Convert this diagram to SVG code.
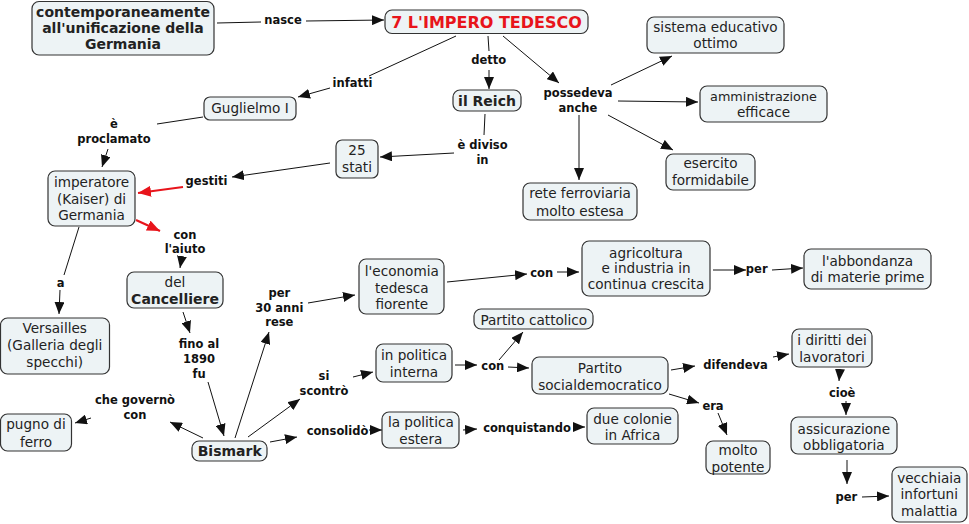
<svg xmlns="http://www.w3.org/2000/svg" width="969" height="524" viewBox="0 0 969 524">
<style>
.n rect{fill:#edf3f5;stroke:#333;stroke-width:1.2}
.n text{font-family:"DejaVu Sans",Verdana,sans-serif;font-size:13.6px;fill:#222;text-anchor:middle}
.n text.b{font-weight:bold;font-size:14px}
.t text{font-family:"DejaVu Sans",Verdana,sans-serif;font-weight:bold;font-size:16px;fill:#e8141b;text-anchor:middle}
.l{font-family:"DejaVu Sans",Verdana,sans-serif;font-weight:bold;font-size:11.5px;fill:#111;text-anchor:middle}
#connectors path{fill:none;stroke:#111;stroke-width:1}
#connectors path.a{marker-end:url(#ar)}
#connectors path.r{stroke:#e8141b;stroke-width:2.2;marker-end:url(#arr)}
</style>
<defs>
<marker id="ar" markerUnits="userSpaceOnUse" markerWidth="12" markerHeight="10" refX="12" refY="5" orient="auto"><path d="M0,0 L12,5 L0,10 z" fill="#111"/></marker>
<marker id="arr" markerUnits="userSpaceOnUse" markerWidth="13" markerHeight="11" refX="13" refY="5.5" orient="auto"><path d="M0,0 L13,5.5 L0,11 z" fill="#e8141b"/></marker>
</defs>
<rect width="969" height="524" fill="#fff"/>
<g id="connectors">
<path d="M217,23 L261,22"/><path class="a" d="M306,21 L384,20"/>
<path d="M456,36 L369,76"/><path class="a" d="M330,88 L298,97"/>
<path d="M488,36 L489,51"/><path class="a" d="M489,70 L489,89"/>
<path class="a" d="M503,36 L559,83"/>
<path class="a" d="M611,85 L672,56"/><path class="a" d="M618,101 L698,102"/><path class="a" d="M608,115 L673,150"/><path class="a" d="M579,115 L579,180"/>
<path d="M485,114 L484,135"/><path class="a" d="M454,153 L380,157"/>
<path class="a" d="M330,163 L232,177"/>
<path class="r" d="M183,187 L138,193"/>
<path d="M203,117 L157,124"/><path class="a" d="M108,149 L102,167"/>
<path class="r" d="M136,220 L160,231"/>
<path class="a" d="M182,256 L180,268"/>
<path d="M79,227 L64,275"/><path class="a" d="M60,290 L59,314"/>
<path class="a" d="M183,312 L190,333"/><path class="a" d="M208,382 L224,436"/>
<path class="a" d="M203,438 L170,422"/><path class="a" d="M91,418 L75,423"/>
<path class="a" d="M235,438 L269,332"/><path class="a" d="M308,303 L355,295"/>
<path class="a" d="M248,437 L300,399"/><path class="a" d="M353,377 L373,372"/>
<path class="a" d="M270,442 L297,437"/><path class="a" d="M369,430 L382,430"/>
<path class="a" d="M463,430 L477,429"/><path class="a" d="M573,427 L585,427"/>
<path class="a" d="M447,282 L527,274"/><path class="a" d="M557,272 L579,272"/>
<path class="a" d="M713,270 L746,270"/><path class="a" d="M772,270 L803,268"/>
<path class="a" d="M455,365 L477,365"/><path class="a" d="M499,360 L523,332"/><path class="a" d="M508,367 L529,368"/>
<path class="a" d="M671,370 L695,366"/><path class="a" d="M773,357 L789,354"/>
<path class="a" d="M669,394 L699,403"/><path class="a" d="M718,413 L727,435"/>
<path class="a" d="M840,369 L839,381"/><path class="a" d="M846,401 L846,415"/>
<path class="a" d="M847,460 L847,484"/><path class="a" d="M862,497 L889,496"/>
</g>
<g id="labels">
<text class="l" x="283" y="24.2">nasce</text>
<text class="l" x="352.5" y="86.9">infatti</text>
<text class="l" x="488.7" y="64.2">detto</text>
<text class="l" x="578" y="96.9">possedeva</text><text class="l" x="578" y="111.5">anche</text>
<text class="l" x="482.5" y="149.2">è diviso</text><text class="l" x="482.5" y="163.5">in</text>
<text class="l" x="206.5" y="185.2">gestiti</text>
<text class="l" x="114" y="128.2">è</text><text class="l" x="114" y="142.5">proclamato</text>
<text class="l" x="185" y="239.2">con</text><text class="l" x="185" y="253.2">l'aiuto</text>
<text class="l" x="60.7" y="286.5">a</text>
<text class="l" x="199" y="348.2">fino al</text><text class="l" x="199" y="363.2">1890</text><text class="l" x="199" y="377.5">fu</text>
<text class="l" x="135" y="404.2">che governò</text><text class="l" x="135" y="418.5">con</text>
<text class="l" x="279.3" y="296.9">per</text><text class="l" x="279.3" y="311.5">30 anni</text><text class="l" x="279.3" y="325.9">rese</text>
<text class="l" x="324" y="380.2">si</text><text class="l" x="324" y="395.2">scontrò</text>
<text class="l" x="337.5" y="434.7">consolidò</text>
<text class="l" x="541.7" y="276.5">con</text>
<text class="l" x="756.7" y="272.5">per</text>
<text class="l" x="492.8" y="370.2">con</text>
<text class="l" x="527" y="431.5">conquistando</text>
<text class="l" x="735.5" y="369.2">difendeva</text>
<text class="l" x="713" y="410.2">era</text>
<text class="l" x="842.2" y="396.9">cioè</text>
<text class="l" x="846.3" y="500.9">per</text>
</g>
<g id="n1" class="n"><rect x="32" y="1.5" width="182" height="53.5" rx="7"/><text class="b" x="123" y="17">contemporaneamente</text><text class="b" x="123" y="33">all'unificazione della</text><text class="b" x="123" y="49">Germania</text></g>
<g id="n2" class="n t"><rect x="385" y="10" width="203" height="23.5" rx="7"/><text x="486.5" y="27.8">7 L'IMPERO TEDESCO</text></g>
<g id="n3" class="n"><rect x="453" y="90" width="68" height="21" rx="7"/><text class="b" x="487" y="105.5">il Reich</text></g>
<g id="n4" class="n"><rect x="204" y="97" width="92" height="23" rx="6"/><text x="250" y="113.4">Guglielmo I</text></g>
<g id="n5" class="n"><rect x="336" y="140" width="42" height="38" rx="6"/><text x="357" y="154.7">25</text><text x="357" y="171.7">stati</text></g>
<g id="n6" class="n"><rect x="48" y="171" width="87" height="55" rx="7"/><text x="91.5" y="186.5">imperatore</text><text x="91.5" y="204">(Kaiser) di</text><text x="91.5" y="220">Germania</text></g>
<g id="n7" class="n"><rect x="647" y="17" width="137" height="36" rx="7"/><text x="715.5" y="31.5">sistema educativo</text><text x="715.5" y="48">ottimo</text></g>
<g id="n8" class="n"><rect x="700" y="86" width="127" height="36" rx="7"/><text x="763.5" y="100.5" style="font-size:12.8px">amministrazione</text><text x="763.5" y="117">efficace</text></g>
<g id="n9" class="n"><rect x="666" y="154" width="89" height="36" rx="7"/><text x="710.5" y="168">esercito</text><text x="710.5" y="184.8">formidabile</text></g>
<g id="n10" class="n"><rect x="523" y="183" width="114" height="37" rx="7"/><text x="580" y="198">rete ferroviaria</text><text x="580" y="215.5">molto estesa</text></g>
<g id="n11" class="n"><rect x="127" y="272" width="96" height="36" rx="7"/><text x="175" y="286.5">del</text><text class="b" x="175" y="304">Cancelliere</text></g>
<g id="n12" class="n"><rect x="0.5" y="318" width="109" height="56" rx="7"/><text x="54.7" y="332.5">Versailles</text><text x="54.7" y="349.8">(Galleria degli</text><text x="54.7" y="366.5">specchi)</text></g>
<g id="n13" class="n"><rect x="192" y="441" width="75" height="20" rx="7"/><text class="b" x="229.7" y="456">Bismark</text></g>
<g id="n14" class="n"><rect x="0.5" y="414" width="71" height="37" rx="7"/><text x="36" y="429">pugno di</text><text x="36" y="446.5">ferro</text></g>
<g id="n15" class="n"><rect x="359" y="259" width="85" height="55" rx="7"/><text x="401.8" y="275.5">l'economia</text><text x="401.8" y="292.5">tedesca</text><text x="401.8" y="308.8">fiorente</text></g>
<g id="n16" class="n"><rect x="582" y="241" width="128" height="55" rx="7"/><text x="646" y="257.5">agricoltura</text><text x="646" y="273">e industria in</text><text x="646" y="289">continua crescita</text></g>
<g id="n17" class="n"><rect x="804" y="249" width="127" height="40" rx="7"/><text x="867.5" y="265.8">l'abbondanza</text><text x="867.5" y="282">di materie prime</text></g>
<g id="n18" class="n"><rect x="474" y="309" width="119" height="20" rx="7"/><text x="533.8" y="324.8">Partito cattolico</text></g>
<g id="n19" class="n"><rect x="376" y="344" width="76" height="38" rx="7"/><text x="414" y="359.8">in politica</text><text x="414" y="376.5">interna</text></g>
<g id="n20" class="n"><rect x="532" y="357" width="136" height="37" rx="7"/><text x="600" y="372.5">Partito</text><text x="600" y="389.8">socialdemocratico</text></g>
<g id="n21" class="n"><rect x="382" y="412" width="77" height="36" rx="7"/><text x="420.8" y="426.5">la politica</text><text x="420.8" y="443.8">estera</text></g>
<g id="n22" class="n"><rect x="587" y="408" width="91" height="36" rx="7"/><text x="632.5" y="423.5">due colonie</text><text x="632.5" y="439.8">in Africa</text></g>
<g id="n23" class="n"><rect x="706" y="441" width="64" height="33" rx="7"/><text x="738" y="454.8">molto</text><text x="738" y="472">potente</text></g>
<g id="n24" class="n"><rect x="792" y="329" width="80" height="38" rx="7"/><text x="832" y="344.8">i diritti dei</text><text x="832" y="362">lavoratori</text></g>
<g id="n25" class="n"><rect x="791" y="417" width="106" height="37" rx="7"/><text x="843.8" y="434">assicurazione</text><text x="843.8" y="449.8">obbligatoria</text></g>
<g id="n26" class="n"><rect x="892" y="467" width="75" height="55" rx="7"/><text x="929.3" y="483">vecchiaia</text><text x="929.3" y="498.8">infortuni</text><text x="929.3" y="515.5">malattia</text></g>
</svg>
